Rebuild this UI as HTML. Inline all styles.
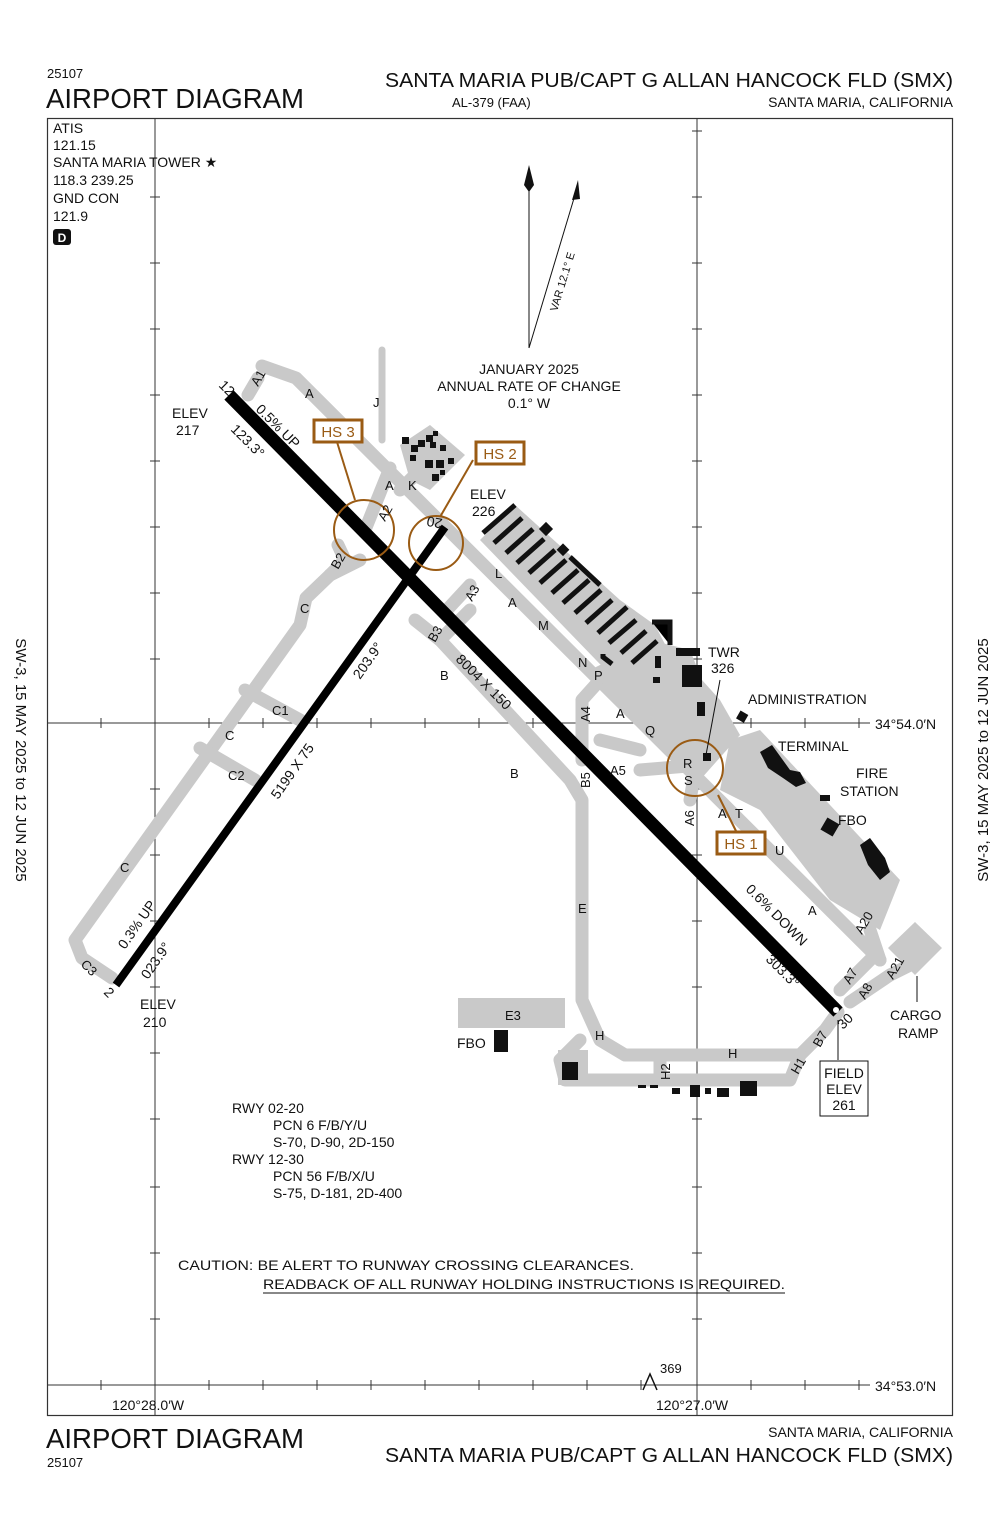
<!DOCTYPE html>
<html><head><meta charset="utf-8"><style>
html,body{margin:0;padding:0;background:#fff}
svg{display:block}
text{font-family:"Liberation Sans",sans-serif;fill:#111}
</style></head><body>
<svg width="1000" height="1533" viewBox="0 0 1000 1533" xmlns="http://www.w3.org/2000/svg">
<text x="47" y="78" font-size="13">25107</text>
<text x="46" y="108" font-size="28" textLength="258" lengthAdjust="spacingAndGlyphs">AIRPORT DIAGRAM</text>
<text x="385" y="87" font-size="20" textLength="568" lengthAdjust="spacingAndGlyphs">SANTA MARIA PUB/CAPT G ALLAN HANCOCK FLD (SMX)</text>
<text x="452" y="107" font-size="13">AL-379 (FAA)</text>
<text x="953" y="107" font-size="14" text-anchor="end">SANTA MARIA, CALIFORNIA</text>
<text x="46" y="1448" font-size="28" textLength="258" lengthAdjust="spacingAndGlyphs">AIRPORT DIAGRAM</text>
<text x="47" y="1467" font-size="13">25107</text>
<text x="953" y="1437" font-size="14" text-anchor="end">SANTA MARIA, CALIFORNIA</text>
<text x="385" y="1462" font-size="20" textLength="568" lengthAdjust="spacingAndGlyphs">SANTA MARIA PUB/CAPT G ALLAN HANCOCK FLD (SMX)</text>
<text transform="translate(16,760) rotate(90)" font-size="15" text-anchor="middle">SW-3,  15 MAY 2025  to  12 JUN 2025</text>
<text transform="translate(988,760) rotate(-90)" font-size="15" text-anchor="middle">SW-3,  15 MAY 2025  to  12 JUN 2025</text>

<rect x="47.5" y="118.5" width="905" height="1297" fill="none" stroke="#333" stroke-width="1.2"/>
<g stroke="#333" stroke-width="1">
<line x1="155" y1="118" x2="155" y2="1416"/>
<line x1="697" y1="118" x2="697" y2="1416"/>
<line x1="47" y1="723" x2="870" y2="723"/>
<line x1="47" y1="1385" x2="870" y2="1385"/>
</g>
<g stroke="#333" stroke-width="1">
<path d="M150 197h10M150 263h10M150 329h10M150 395h10M150 461h10M150 527h10M150 593h10M150 659h10M150 789h10M150 855h10M150 921h10M150 987h10M150 1053h10M150 1119h10M150 1187h10M150 1253h10M150 1319h10"/>
<path d="M692 131h10M692 197h10M692 263h10M692 329h10M692 395h10M692 461h10M692 527h10M692 593h10M692 659h10M692 789h10M692 855h10M692 921h10M692 987h10M692 1053h10M692 1119h10M692 1187h10M692 1253h10M692 1319h10"/>
<path d="M101 718v10M209 718v10M263 718v10M317 718v10M371 718v10M425 718v10M479 718v10M533 718v10M587 718v10M641 718v10M751 718v10M805 718v10M859 718v10"/>
<path d="M101 1380v10M209 1380v10M263 1380v10M317 1380v10M371 1380v10M425 1380v10M479 1380v10M533 1380v10M587 1380v10M641 1380v10M751 1380v10M805 1380v10M859 1380v10"/>
</g>
<text x="875" y="729" font-size="14">34°54.0′N</text>
<text x="875" y="1391" font-size="14">34°53.0′N</text>
<text x="112" y="1410" font-size="14">120°28.0′W</text>
<text x="656" y="1410" font-size="14">120°27.0′W</text>
<path d="M643 1390 L650 1374 L657 1390" fill="none" stroke="#111" stroke-width="1.5"/>
<text x="660" y="1373" font-size="13">369</text>

<g font-size="14">
<text x="53" y="133">ATIS</text>
<text x="53" y="150">121.15</text>
<text x="53" y="167">SANTA MARIA TOWER ★</text>
<text x="53" y="185">118.3  239.25</text>
<text x="53" y="203">GND CON</text>
<text x="53" y="221">121.9</text>
</g>
<rect x="53" y="229" width="18" height="16" rx="3" fill="#111"/>
<text x="62" y="242" font-size="12" text-anchor="middle" style="fill:#fff" font-weight="bold">D</text>

<line x1="529" y1="185" x2="529" y2="348" stroke="#111" stroke-width="1"/>
<path d="M529 165 L524 185 L529 192 L534 185Z" fill="#111"/>
<line x1="529" y1="348" x2="578" y2="185" stroke="#111" stroke-width="1"/>
<path d="M578 180 L572 200 L580 199Z" fill="#111"/>
<text transform="translate(557,312) rotate(-73)" font-size="11">VAR 12.1° E</text>
<g font-size="14" text-anchor="middle">
<text x="529" y="374">JANUARY 2025</text>
<text x="529" y="391">ANNUAL RATE OF CHANGE</text>
<text x="529" y="408">0.1° W</text>
</g>

<g fill="none" stroke="#c9c9c9" stroke-width="13" stroke-linejoin="round" stroke-linecap="round">
<path d="M262 366 L296 378 L318 400 L880 960"/>
<path d="M382 350 L382 440" stroke-width="7"/>
<path d="M258 378 L248 395"/>
<path d="M390 468 L365 530"/>
<path d="M400 490 L430 460"/>
<path d="M338 545 L345 560 L330 575 L306 598 L300 625 L75 940 L82 958 L112 978"/>
<path d="M330 575 L360 560"/>
<path d="M415 620 L440 640 L570 780 L582 800 L582 1000 L600 1040 L625 1055 L800 1055 L825 1030 L838 1012"/>
<path d="M440 640 L470 610"/>
<path d="M580 1040 L560 1060 L565 1080 L790 1080 L800 1055"/>
<path d="M660 1055 L660 1080"/>
<path d="M245 690 L300 720"/>
<path d="M200 748 L255 780"/>
<path d="M445 612 L470 585"/>
<path d="M582 760 L582 700 L600 680"/>
<path d="M600 740 L640 750"/>
<path d="M640 770 L700 765"/>
<path d="M690 800 L697 760"/>
<path d="M840 990 L870 960"/>
<path d="M850 1002 L890 975 L910 965"/>
<path d="M880 960 L870 930"/>
<path d="M697 690 L697 720"/>
</g>
<g fill="#c9c9c9">
<polygon points="480,540 515,505 620,600 655,625 668,650 645,678 625,690"/>
<polygon points="590,670 650,640 690,650 702,680 720,700 740,735 700,780 660,745"/>
<polygon points="730,740 760,730 900,880 880,930 830,900 760,810 720,790"/>
<polygon points="400,445 430,425 465,455 430,490 410,480"/>
<polygon points="888,948 915,922 942,948 915,975"/>
<rect x="458" y="998" width="107" height="30"/>
<rect x="558" y="1050" width="30" height="35"/>
</g>
<g stroke="#111" stroke-width="5">
<path d="M483 533 L515 505"/>
<path d="M494 543 L522 518"/>
<path d="M506 553 L533 529"/>
<path d="M517 563 L544 539"/>
<path d="M529 573 L555 550"/>
<path d="M540 583 L566 560"/>
<path d="M552 593 L578 570"/>
<path d="M563 603 L589 580"/>
<path d="M575 613 L601 590"/>
<path d="M586 623 L612 600"/>
<path d="M598 633 L627 607"/>
<path d="M609 643 L636 620"/>
<path d="M621 653 L646 631"/>
<path d="M632 663 L657 641"/>
<path d="M570 557 L600 585"/>
<path d="M603 654 L603 657 L612 664"/>
<path d="M652 622 L670 622 L670 645"/>
</g>
<g fill="#111">
<rect x="541" y="524" width="10" height="10" transform="rotate(45 546 529)"/>
<rect x="559" y="545" width="9" height="9" transform="rotate(45 563 549)"/>
<rect x="676" y="648" width="24" height="8"/>
<rect x="682" y="665" width="20" height="22"/>
<rect x="655" y="656" width="6" height="12"/>
<rect x="653" y="677" width="7" height="6"/>
<rect x="697" y="702" width="8" height="14"/>
<rect x="703" y="753" width="8" height="8"/>
<rect x="738" y="712" width="9" height="9" transform="rotate(30 742 716)"/>
<polygon points="760,752 772,745 790,770 800,772 806,783 796,787 783,778 768,768"/>
<rect x="820" y="795" width="10" height="6"/>
<rect x="823" y="820" width="14" height="14" transform="rotate(30 830 827)"/>
<polygon points="860,845 870,838 885,858 890,872 880,880 868,865"/>
<rect x="494" y="1030" width="14" height="22"/>
<rect x="562" y="1062" width="16" height="18"/>
<rect x="638" y="1085" width="8" height="3"/>
<rect x="650" y="1085" width="8" height="3"/>
<rect x="672" y="1088" width="8" height="6"/>
<rect x="690" y="1085" width="10" height="12"/>
<rect x="705" y="1088" width="6" height="6"/>
<rect x="717" y="1088" width="12" height="9"/>
<rect x="740" y="1081" width="17" height="15"/>
</g>
<g fill="#111">
<rect x="402" y="437" width="7" height="7"/><rect x="411" y="445" width="7" height="7"/><rect x="418" y="440" width="7" height="7"/><rect x="426" y="435" width="7" height="7"/><rect x="433" y="431" width="5" height="5"/><rect x="430" y="442" width="6" height="6"/><rect x="440" y="445" width="6" height="6"/><rect x="410" y="455" width="6" height="6"/><rect x="425" y="460" width="8" height="8"/><rect x="436" y="460" width="8" height="8"/><rect x="448" y="458" width="6" height="6"/><rect x="432" y="474" width="7" height="7"/><rect x="440" y="470" width="5" height="5"/>
</g>

<line x1="229" y1="395" x2="838" y2="1012" stroke="#000" stroke-width="13"/>
<circle cx="836" cy="1010" r="3" fill="#fff"/>
<line x1="116" y1="985" x2="445" y2="527" stroke="#000" stroke-width="8"/>

<g fill="none" stroke="#9a5b14" stroke-width="2">
<circle cx="364" cy="530" r="30"/>
<circle cx="436" cy="543" r="27"/>
<circle cx="695" cy="768" r="28"/>
<path d="M337 442 L355 500"/>
<path d="M473 460 L440 517"/>
<path d="M718 795 L737 833"/>
</g>
<g fill="#fff" stroke="#9a5b14" stroke-width="3">
<rect x="314" y="420" width="48" height="22"/>
<rect x="476" y="442" width="48" height="22"/>
<rect x="717" y="832" width="48" height="22"/>
</g>
<g font-size="15" text-anchor="middle">
<text x="338" y="437" style="fill:#9a5b14">HS 3</text>
<text x="500" y="459" style="fill:#9a5b14">HS 2</text>
<text x="741" y="849" style="fill:#9a5b14">HS 1</text>
</g>

<g font-size="14">
<text x="172" y="418">ELEV</text><text x="176" y="435">217</text>
<text x="470" y="499">ELEV</text><text x="472" y="516">226</text>
<text x="140" y="1009">ELEV</text><text x="143" y="1027">210</text>
<text x="708" y="657">TWR</text><text x="711" y="673">326</text>
<text x="748" y="704">ADMINISTRATION</text>
<text x="778" y="751">TERMINAL</text>
<text x="856" y="778">FIRE</text><text x="840" y="796">STATION</text>
<text x="838" y="825">FBO</text>
<text x="457" y="1048">FBO</text>
<text x="890" y="1020">CARGO</text><text x="898" y="1038">RAMP</text>
</g>
<line x1="917" y1="976" x2="917" y2="1002" stroke="#111"/>
<line x1="838" y1="1020" x2="838" y2="1060" stroke="#111"/>
<line x1="706" y1="755" x2="720" y2="680" stroke="#111"/>
<rect x="820" y="1061" width="48" height="55" fill="#fff" stroke="#111"/>
<g font-size="14" text-anchor="middle"><text x="844" y="1078">FIELD</text><text x="844" y="1094">ELEV</text><text x="844" y="1110">261</text></g>

<g font-size="14">
<text transform="translate(218,386) rotate(45)">12</text>
<text transform="translate(843,1030) rotate(-45)">30</text>
<text transform="translate(103,993) rotate(45)">2</text>
<text transform="translate(443,519) rotate(190)">20</text>
<text transform="translate(255,410) rotate(45)">0.5% UP</text>
<text transform="translate(230,430) rotate(45)">123.3°</text>
<text transform="translate(455,660) rotate(45)">8004 X 150</text>
<text transform="translate(745,890) rotate(45)">0.6% DOWN</text>
<text transform="translate(765,960) rotate(45)">303.3°</text>
<text transform="translate(360,680) rotate(-55)">203.9°</text>
<text transform="translate(278,800) rotate(-55)">5199 X 75</text>
<text transform="translate(125,950) rotate(-55)">0.3% UP</text>
<text transform="translate(148,980) rotate(-55)">023.9°</text>
</g>
<g font-size="13">
<text transform="translate(258,387) rotate(-60)">A1</text>
<text x="305" y="398">A</text>
<text x="373" y="407">J</text>
<text x="385" y="490">A</text>
<text x="408" y="490">K</text>
<text transform="translate(385,522) rotate(-60)">A2</text>
<text transform="translate(338,570) rotate(-60)">B2</text>
<text x="300" y="613">C</text>
<text x="495" y="578">L</text>
<text transform="translate(472,602) rotate(-60)">A3</text>
<text x="508" y="607">A</text>
<text x="538" y="630">M</text>
<text transform="translate(435,643) rotate(-60)">B3</text>
<text x="440" y="680">B</text>
<text x="578" y="667">N</text>
<text x="594" y="680">P</text>
<text transform="translate(590,722) rotate(-90)">A4</text>
<text x="616" y="718">A</text>
<text x="645" y="735">Q</text>
<text x="272" y="715">C1</text>
<text x="225" y="740">C</text>
<text x="228" y="780">C2</text>
<text x="610" y="775">A5</text>
<text x="683" y="768">R</text>
<text x="684" y="785">S</text>
<text x="510" y="778">B</text>
<text transform="translate(590,788) rotate(-90)">B5</text>
<text transform="translate(694,826) rotate(-90)">A6</text>
<text x="718" y="818">A</text>
<text x="735" y="818">T</text>
<text x="775" y="855">U</text>
<text x="120" y="872">C</text>
<text x="578" y="913">E</text>
<text x="808" y="915">A</text>
<text transform="translate(862,935) rotate(-60)">A20</text>
<text transform="translate(850,985) rotate(-60)">A7</text>
<text transform="translate(865,1000) rotate(-60)">A8</text>
<text transform="translate(893,980) rotate(-60)">A21</text>
<text transform="translate(820,1048) rotate(-60)">B7</text>
<text x="505" y="1020">E3</text>
<text x="595" y="1040">H</text>
<text transform="translate(670,1080) rotate(-90)">H2</text>
<text x="728" y="1058">H</text>
<text transform="translate(798,1075) rotate(-60)">H1</text>
<text transform="translate(80,965) rotate(45)">C3</text>
</g>

<g font-size="14">
<text x="232" y="1113">RWY 02-20</text>
<text x="273" y="1130">PCN 6 F/B/Y/U</text>
<text x="273" y="1147">S-70, D-90, 2D-150</text>
<text x="232" y="1164">RWY 12-30</text>
<text x="273" y="1181">PCN 56 F/B/X/U</text>
<text x="273" y="1198">S-75, D-181, 2D-400</text>
<text x="178" y="1270" textLength="456" lengthAdjust="spacingAndGlyphs">CAUTION: BE ALERT TO RUNWAY CROSSING CLEARANCES.</text>
<text x="263" y="1289" textLength="522" lengthAdjust="spacingAndGlyphs">READBACK OF ALL RUNWAY HOLDING INSTRUCTIONS IS REQUIRED.</text>
</g>
<line x1="263" y1="1293" x2="785" y2="1293" stroke="#111"/>
</svg>
</body></html>
